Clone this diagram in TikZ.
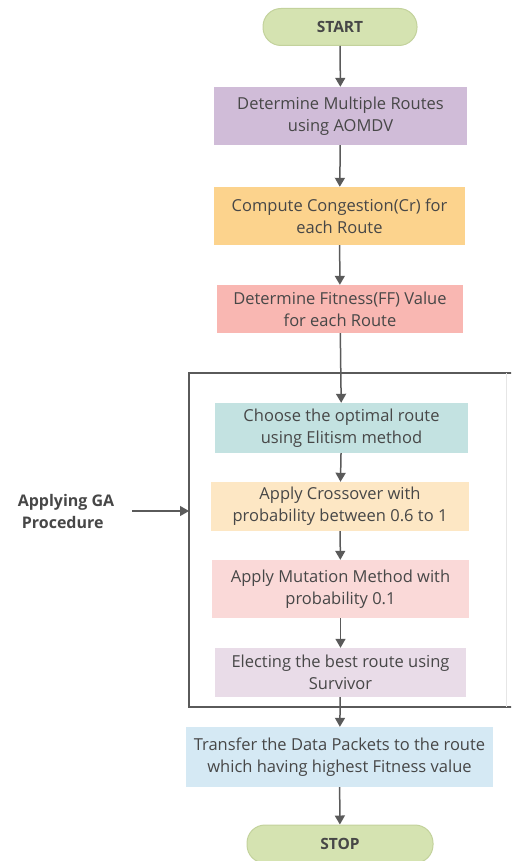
\documentclass[tikz,border=0pt]{standalone}
\usepackage{fontspec}
\setmainfont{Open Sans}
\usetikzlibrary{arrows.meta}
\definecolor{txt}{HTML}{474747}
\definecolor{ln}{HTML}{5A5A5A}
\definecolor{term}{HTML}{D5E3B1}
\definecolor{termb}{HTML}{C3D29C}
\definecolor{cA}{HTML}{D0BCD8}
\definecolor{cB}{HTML}{FCD38D}
\definecolor{cC}{HTML}{F9B7B2}
\definecolor{cD}{HTML}{C3E2E1}
\definecolor{cE}{HTML}{FDE7C4}
\definecolor{cF}{HTML}{FAD9D8}
\definecolor{cG}{HTML}{E9DCE8}
\definecolor{cH}{HTML}{D5E9F4}
\tikzset{
  stepbox/.style={draw=none, text=txt, align=center, font=\fontsize{16.5}{22}\selectfont, inner sep=0pt},
  termbox/.style={draw=termb, line width=1pt, fill=term, text=txt, font=\bfseries\fontsize{15.5}{18}\selectfont, rounded corners=18pt, inner sep=0pt},
  arr/.style={draw=ln, line width=1.5pt, -{Triangle[width=10pt,length=9pt]}},
}
\begin{document}
\begin{tikzpicture}[x=1pt,y=-1pt]
\useasboundingbox (0,0) rectangle (511,861);
\clip (0,0) rectangle (511,861);
\node[termbox, minimum width=154pt, minimum height=37pt] (start) at (340,27) {START};
\node[stepbox, fill=cA, minimum width=253pt, minimum height=58pt] (b1) at (340.5,116) {Determine Multiple Routes\\using AOMDV};
\node[stepbox, fill=cB, minimum width=251pt, minimum height=58pt] (b2) at (339.5,216) {Compute Congestion(Cr) for\\each Route};
\node[stepbox, fill=cC, minimum width=246pt, minimum height=48pt] (b3) at (340,309) {Determine Fitness(FF) Value\\for each Route};
\coordinate (ftl) at (189,373);
\coordinate (fbl) at (189,707);
\coordinate (ftr) at (506,373);
\coordinate (fbr) at (506,707);
\draw[ln, line width=1.2pt] (512,373) -- (ftl) -- (fbl) -- (512,707);
\draw[ln!15, line width=0.8pt] (ftr) -- (fbr);
\node[stepbox, fill=cD, minimum width=253pt, minimum height=50pt] (b4) at (341.5,428) {Choose the optimal route\\using Elitism method};
\node[stepbox, fill=cE, minimum width=258pt, minimum height=49pt] (b5) at (340,506.5) {Apply Crossover with\\probability between 0.6 to 1};
\node[stepbox, fill=cF, minimum width=257pt, minimum height=58pt] (b6) at (340.5,589) {Apply Mutation Method with\\probability 0.1};
\node[stepbox, fill=cG, minimum width=251pt, minimum height=49pt] (b7) at (340.5,672.5) {Electing the best route using\\Survivor};
\node[stepbox, fill=cH, minimum width=307pt, minimum height=60pt] (b8) at (339.5,757) {Transfer the Data Packets to the route\\which having highest Fitness value};
\node[termbox, minimum width=186pt, minimum height=38pt] (stop) at (340,844) {STOP};
\node[text=txt, align=left, font=\bfseries\fontsize{16}{22}\selectfont, inner sep=0pt] (ga) at (66,511) {Applying GA\\\ Procedure};
\coordinate (gaend) at (189,511);
\coordinate (gastart) at (132,511);
\draw[arr] (start) -- (b1);
\draw[arr] (b1) -- (b2);
\draw[arr] (b2) -- (b3);
\draw[arr] (b3) -- (b4);
\draw[arr] (b4) -- (b5);
\draw[arr] (b5) -- (b6);
\draw[arr] (b6) -- (b7);
\draw[arr] (b7) -- (b8);
\draw[arr] (b8) -- (stop);
\draw[arr, line width=1.2pt] (gastart) -- (gaend);
\end{tikzpicture}
\end{document}
